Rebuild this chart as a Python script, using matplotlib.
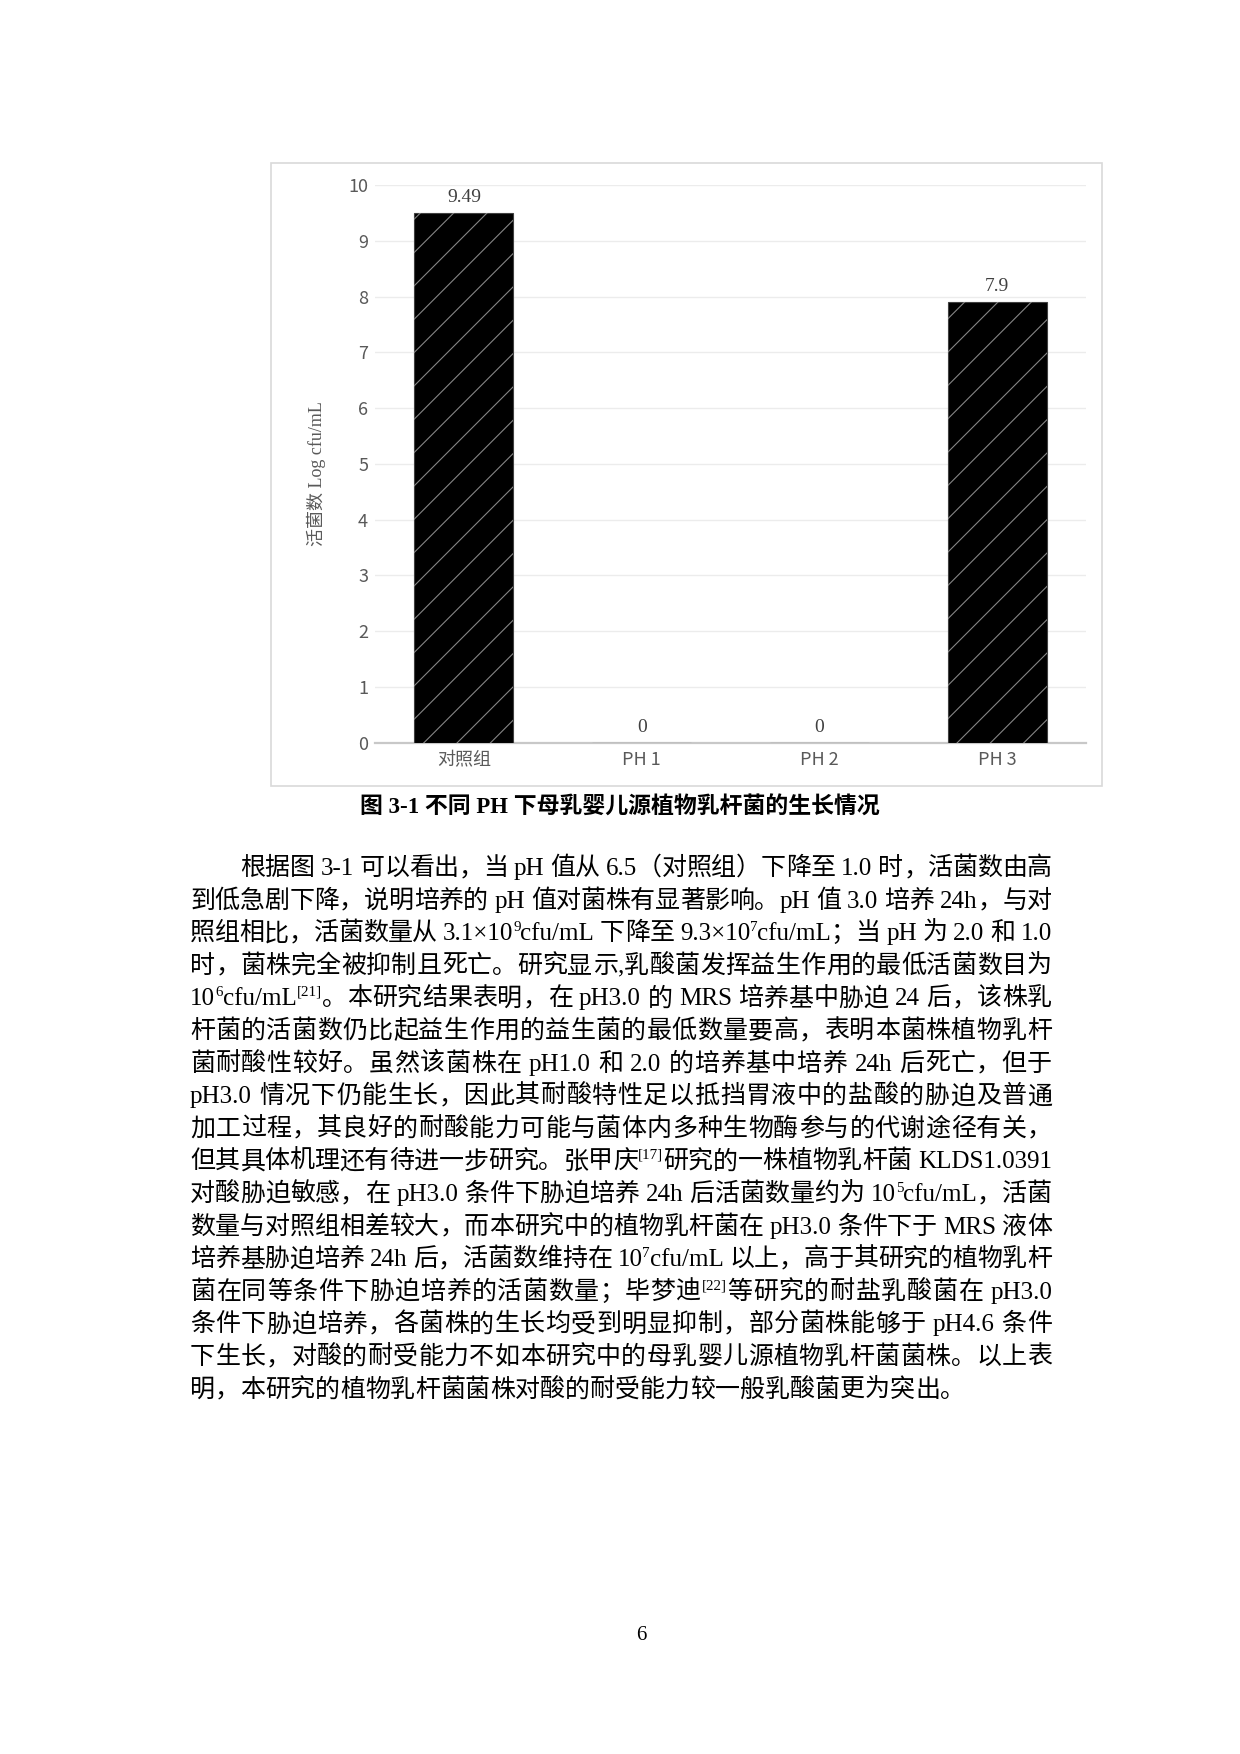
import numpy as np
import matplotlib
matplotlib.use('Agg')
import matplotlib.pyplot as plt
from matplotlib.patches import Rectangle

plt.rcParams['hatch.linewidth'] = 0.8

# chart data
categories = ['对照组', 'PH 1', 'PH 2', 'PH 3']
viable_log = [9.49, 0, 0, 7.9]
value_labels = ['9.49', '0', '0', '7.9']
y_ticks = list(range(0, 11))

y_label = '活菌数 Log cfu/mL'
caption = '图 3-1 不同 PH 下母乳婴儿源植物乳杆菌的生长情况'
page_no = '6'

# body text, ^{..} marks superscript
body_lines = [
    '根据图 3-1 可以看出，当 pH 值从 6.5（对照组）下降至 1.0 时，活菌数由高',
    '到低急剧下降，说明培养的 pH 值对菌株有显著影响。pH 值 3.0 培养 24h，与对',
    '照组相比，活菌数量从 3.1×10^{9}cfu/mL 下降至 9.3×10^{7}cfu/mL；当 pH 为 2.0 和 1.0',
    '时，菌株完全被抑制且死亡。研究显示,乳酸菌发挥益生作用的最低活菌数目为',
    '10^{6}cfu/mL^{[21]}。本研究结果表明，在 pH3.0 的 MRS 培养基中胁迫 24 后，该株乳',
    '杆菌的活菌数仍比起益生作用的益生菌的最低数量要高，表明本菌株植物乳杆',
    '菌耐酸性较好。虽然该菌株在 pH1.0 和 2.0 的培养基中培养 24h 后死亡，但于',
    'pH3.0 情况下仍能生长，因此其耐酸特性足以抵挡胃液中的盐酸的胁迫及普通',
    '加工过程，其良好的耐酸能力可能与菌体内多种生物酶参与的代谢途径有关，',
    '但其具体机理还有待进一步研究。张甲庆^{[17]}研究的一株植物乳杆菌 KLDS1.0391',
    '对酸胁迫敏感，在 pH3.0 条件下胁迫培养 24h 后活菌数量约为 10^{5}cfu/mL，活菌',
    '数量与对照组相差较大，而本研究中的植物乳杆菌在 pH3.0 条件下于 MRS 液体',
    '培养基胁迫培养 24h 后，活菌数维持在 10^{7}cfu/mL 以上，高于其研究的植物乳杆',
    '菌在同等条件下胁迫培养的活菌数量；毕梦迪^{[22]}等研究的耐盐乳酸菌在 pH3.0',
    '条件下胁迫培养，各菌株的生长均受到明显抑制，部分菌株能够于 pH4.6 条件',
    '下生长，对酸的耐受能力不如本研究中的母乳婴儿源植物乳杆菌菌株。以上表',
    '明，本研究的植物乳杆菌菌株对酸的耐受能力较一般乳酸菌更为突出。',
]

W, H = 1240, 1754
MIX = ['Liberation Serif', 'Noto Sans CJK SC']
SANS = ['Noto Sans CJK SC', 'DejaVu Sans']


def fx(x):
    return x / W


def fy(y):
    return 1 - y / H


fig = plt.figure(figsize=(W / 100, H / 100), dpi=100)

# frame around the chart
fig.patches.append(Rectangle((fx(271), fy(786)), (1102 - 271) / W, (786 - 163) / H,
                             transform=fig.transFigure, fill=False,
                             edgecolor='#d9d9d9', linewidth=1.2))

ax = fig.add_axes([fx(375), fy(742.7), (1086 - 375) / W, (742.7 - 185) / H])
x = np.arange(len(categories))
bw = 0.557
ax.bar(x, viable_log, width=bw, color='black', edgecolor='#404040', linewidth=0.8, zorder=3)
ax.bar(x, viable_log, width=bw, facecolor='none', edgecolor='#858585', hatch='/',
       linewidth=0, zorder=4)
for xi, v, lab in zip(x, viable_log, value_labels):
    ax.annotate(lab, (xi, v), xytext=(0, 5), textcoords='offset points',
                ha='center', va='bottom', fontsize=14, color='#404040',
                family='Liberation Serif')

ax.set_xlim(-0.5, len(categories) - 0.5)
ax.set_ylim(0, 10)
ax.set_yticks(y_ticks)
ax.set_xticks(x)
ax.set_xticklabels(categories, family=SANS, fontsize=13, color='#595959')
for t in ax.get_yticklabels():
    t.set_family(SANS)
    t.set_fontsize(13)
    t.set_color('#595959')
ax.tick_params(length=0)
ax.tick_params(axis='y', pad=5)
ax.tick_params(axis='x', pad=6)
ax.grid(axis='y', color='#ececec', linewidth=1.0, zorder=0)
ax.set_axisbelow(True)
for s in ['top', 'right', 'left']:
    ax.spines[s].set_visible(False)
ax.spines['bottom'].set_color('#c8c8c8')
ax.spines['bottom'].set_linewidth(1.6)

fig.text(fx(316), fy(474), y_label, rotation=90, ha='center', va='center',
         fontsize=13, color='#595959', family=MIX)

fig.text(fx(620), fy(808), caption, ha='center', va='center', fontsize=16.5,
         family=MIX, weight='bold', color='black')

fig.text(fx(641), fy(1635), page_no, ha='center', va='center', fontsize=15,
         family='Liberation Serif', color='black')

# body paragraph, justified token by token
renderer = fig.canvas.get_renderer()
body_size = 18
em = body_size * 100 / 72
sup_size = body_size * 0.6


def split_tokens(line):
    out = []
    i = 0
    while i < len(line):
        if line.startswith('^{', i):
            j = line.index('}', i)
            out.append((line[i + 2:j], 'sup'))
            i = j + 1
        elif line[i] == ' ':
            out.append((' ', 'space'))
            i += 1
        elif ord(line[i]) >= 0x2E80:
            out.append((line[i], 'cjk'))
            i += 1
        else:
            j = i
            while (j < len(line) and line[j] != ' ' and ord(line[j]) < 0x2E80
                   and not line.startswith('^{', j)):
                j += 1
            out.append((line[i:j], 'lat'))
            i = j
    return out


def tok_width(s, kind):
    if kind == 'space':
        return 0.25 * em
    size = sup_size if kind == 'sup' else body_size
    t = fig.text(0, 0, s, fontsize=size, family=MIX)
    w = t.get_window_extent(renderer).width
    t.remove()
    return w


left, right = 190, 1052
base0, pitch = 875, 32.6
for n, line in enumerate(body_lines):
    toks = split_tokens(line)
    widths = [tok_width(s, k) for s, k in toks]
    x0 = left + (2 * em if n == 0 else 0)
    natural = sum(widths)
    last = n == len(body_lines) - 1
    gap = 0 if last or len(toks) < 2 else (right - x0 - natural) / (len(toks) - 1)
    yb = base0 + n * pitch
    cx = x0
    for (s, k), w in zip(toks, widths):
        if k == 'sup':
            fig.text(fx(cx), fy(yb - 0.38 * em), s, fontsize=sup_size, family=MIX,
                     va='baseline', ha='left')
        elif k != 'space':
            fig.text(fx(cx), fy(yb), s, fontsize=body_size, family=MIX,
                     va='baseline', ha='left')
        cx += w + gap

fig.savefig('out.png', dpi=100)
